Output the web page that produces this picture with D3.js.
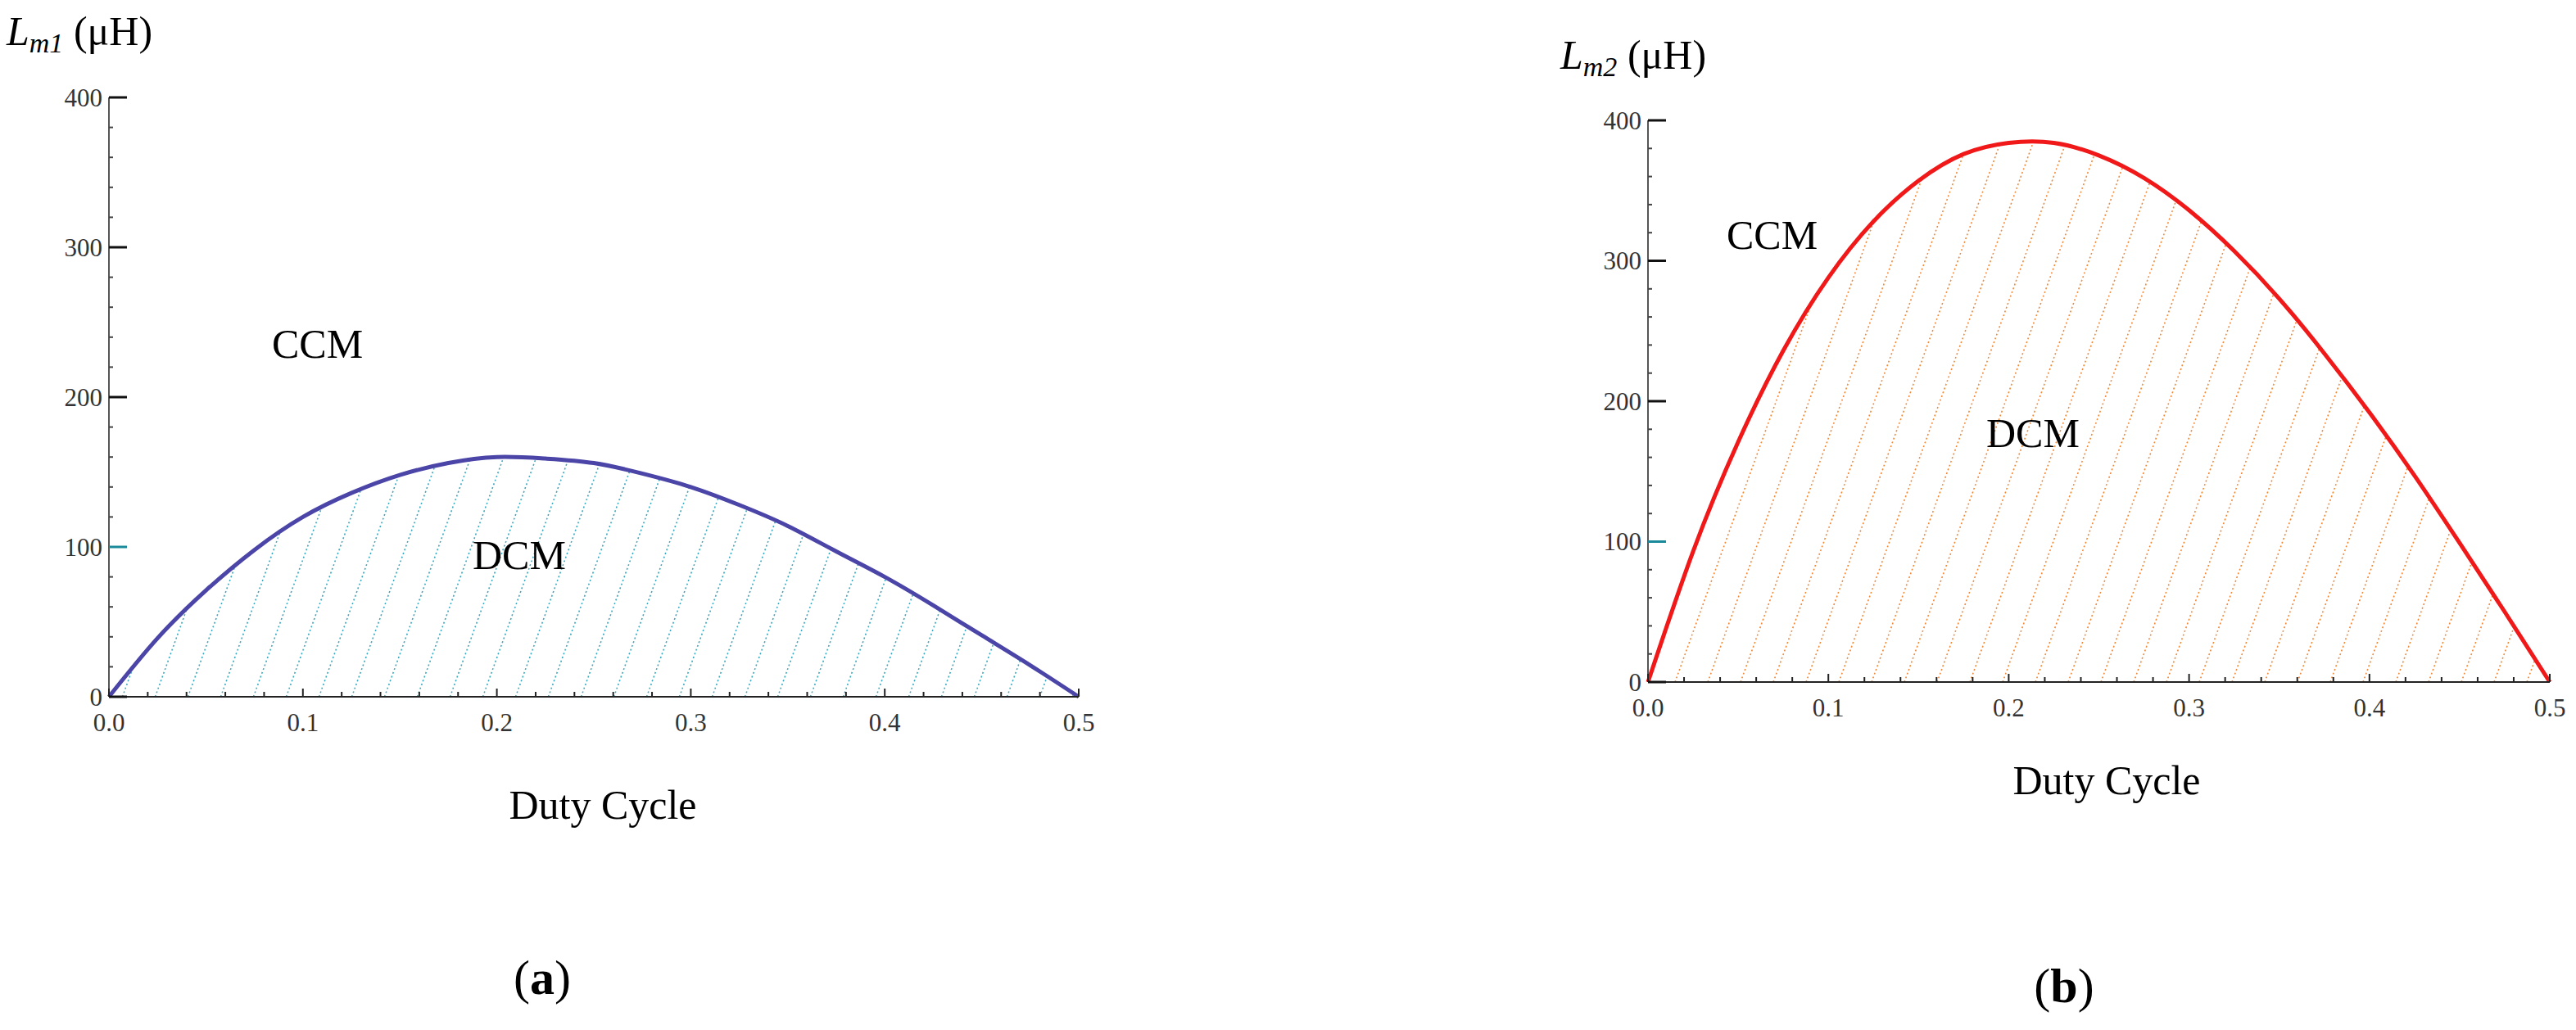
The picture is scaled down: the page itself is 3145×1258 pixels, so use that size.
<!DOCTYPE html>
<html>
<head>
<meta charset="utf-8">
<script src="https://cdn.jsdelivr.net/npm/d3@7"></script>
<style>
  body { margin: 0; background: #fff; }
  text { font-family: "Liberation Serif", serif; }
</style>
</head>
<body>
<svg id="chart" width="3145" height="1258"></svg>
<script>
// duty cycle samples
const duty = [0, 0.025, 0.05, 0.075, 0.1, 0.125, 0.15, 0.175, 0.2, 0.225, 0.25,
  0.275, 0.3, 0.325, 0.35, 0.375, 0.4, 0.425, 0.45, 0.475, 0.5];
// boundary inductance (uH)
const lm1 = [0, 39, 71, 98, 120, 136, 148, 156, 160, 159, 156, 149, 140, 128, 114, 97, 80, 61, 41, 21, 0];
const lm2 = [0, 93, 171, 236, 288, 328, 357, 376, 384, 384, 375, 359, 336, 307, 273, 234, 192, 147, 99, 50, 0];
const xTicks = [0, 0.1, 0.2, 0.3, 0.4, 0.5];
const yTicks = [0, 100, 200, 300, 400];

const svg = d3.select("#chart");

function panel(cfg) {
  const x = d3.scaleLinear().domain([0, 0.5]).range([cfg.x0, cfg.x1]);
  const y = d3.scaleLinear().domain([0, 400]).range([cfg.y0, cfg.y1]);
  const g = svg.append("g");
  const pts = duty.map((d, i) => [d, cfg.values[i]]);

  // hatched area under the curve
  const clipId = "clip-" + cfg.id;
  g.append("clipPath").attr("id", clipId)
    .append("path")
    .attr("d", d3.area().curve(d3.curveNatural)
      .x(d => x(d[0])).y0(y(0)).y1(d => y(d[1]))(pts));
  const hatch = g.append("g").attr("clip-path", `url(#${clipId})`);
  const h = cfg.y0 - cfg.y1;
  const lean = h * 0.36;
  for (let xs = cfg.x0 - lean; xs < cfg.x1 + 10; xs += cfg.gap) {
    hatch.append("line")
      .attr("x1", xs).attr("y1", cfg.y0)
      .attr("x2", xs + lean).attr("y2", cfg.y1)
      .attr("stroke", cfg.hatch).attr("stroke-width", 1.6)
      .attr("stroke-dasharray", "2,3");
  }

  // curve
  g.append("path")
    .attr("d", d3.line().curve(d3.curveNatural)
      .x(d => x(d[0])).y(d => y(d[1]))(pts))
    .attr("fill", "none").attr("stroke", cfg.color).attr("stroke-width", 5);

  // axes
  g.append("line").attr("x1", x(0)).attr("x2", x(0.5))
    .attr("y1", y(0)).attr("y2", y(0)).attr("stroke", "#222").attr("stroke-width", 2);
  g.append("line").attr("x1", x(0)).attr("x2", x(0))
    .attr("y1", y(0)).attr("y2", y(400)).attr("stroke", "#555").attr("stroke-width", 2);

  d3.range(0, 0.5001, 0.02).forEach(v => {
    g.append("line").attr("x1", x(v)).attr("x2", x(v))
      .attr("y1", y(0)).attr("y2", y(0) - (xTicks.some(t => Math.abs(t - v) < 1e-6) ? 10 : 6))
      .attr("stroke", "#222").attr("stroke-width", 2);
  });
  d3.range(0, 401, 20).forEach(v => {
    g.append("line").attr("x1", x(0)).attr("x2", x(0) + 5)
      .attr("y1", y(v)).attr("y2", y(v)).attr("stroke", "#444").attr("stroke-width", 2);
  });
  yTicks.forEach(v => {
    g.append("line").attr("x1", x(0)).attr("x2", x(0) + 22)
      .attr("y1", y(v)).attr("y2", y(v))
      .attr("stroke", v === 100 ? "#1a8a9a" : "#111").attr("stroke-width", 3);
    g.append("text").attr("x", x(0) - 8).attr("y", y(v)).attr("dy", "0.35em")
      .attr("text-anchor", "end").attr("font-size", 31).attr("fill", "#333").text(v);
  });
  xTicks.forEach(v => {
    g.append("text").attr("x", x(v)).attr("y", y(0) + 42)
      .attr("text-anchor", "middle").attr("font-size", 31).attr("fill", "#333")
      .text(d3.format(".1f")(v));
  });

  // labels
  const t = g.append("text").attr("x", cfg.title[0]).attr("y", cfg.title[1]).attr("font-size", 50);
  t.append("tspan").attr("font-style", "italic").text("L");
  t.append("tspan").attr("font-style", "italic").attr("font-size", 34).attr("dy", 9).text(cfg.sub);
  t.append("tspan").attr("dy", -9).text(" (μH)");
  g.append("text").attr("x", cfg.ccm[0]).attr("y", cfg.ccm[1]).attr("font-size", 50).text("CCM");
  g.append("text").attr("x", cfg.dcm[0]).attr("y", cfg.dcm[1]).attr("font-size", 50).text("DCM");
  g.append("text").attr("x", cfg.xl[0]).attr("y", cfg.xl[1]).attr("font-size", 50)
    .attr("text-anchor", "middle").text("Duty Cycle");
  const p = g.append("text").attr("x", cfg.tag[0]).attr("y", cfg.tag[1]).attr("font-size", 60)
    .attr("text-anchor", "middle");
  p.append("tspan").text("(");
  p.append("tspan").attr("font-weight", "bold").text(cfg.letter);
  p.append("tspan").text(")");
}

panel({ id: "a", values: lm1, x0: 133, x1: 1317, y0: 851, y1: 119,
  color: "#4b45a8", hatch: "#3aa8bf", gap: 40,
  title: [8, 55], sub: "m1", ccm: [332, 437], dcm: [577, 695], xl: [736, 1000],
  tag: [662, 1214], letter: "a" });
panel({ id: "b", values: lm2, x0: 2012, x1: 3113, y0: 833, y1: 147,
  color: "#f01818", hatch: "#f0893a", gap: 40,
  title: [1905, 84], sub: "m2", ccm: [2108, 304], dcm: [2425, 546], xl: [2572, 970],
  tag: [2520, 1224], letter: "b" });
</script>
</body>
</html>
